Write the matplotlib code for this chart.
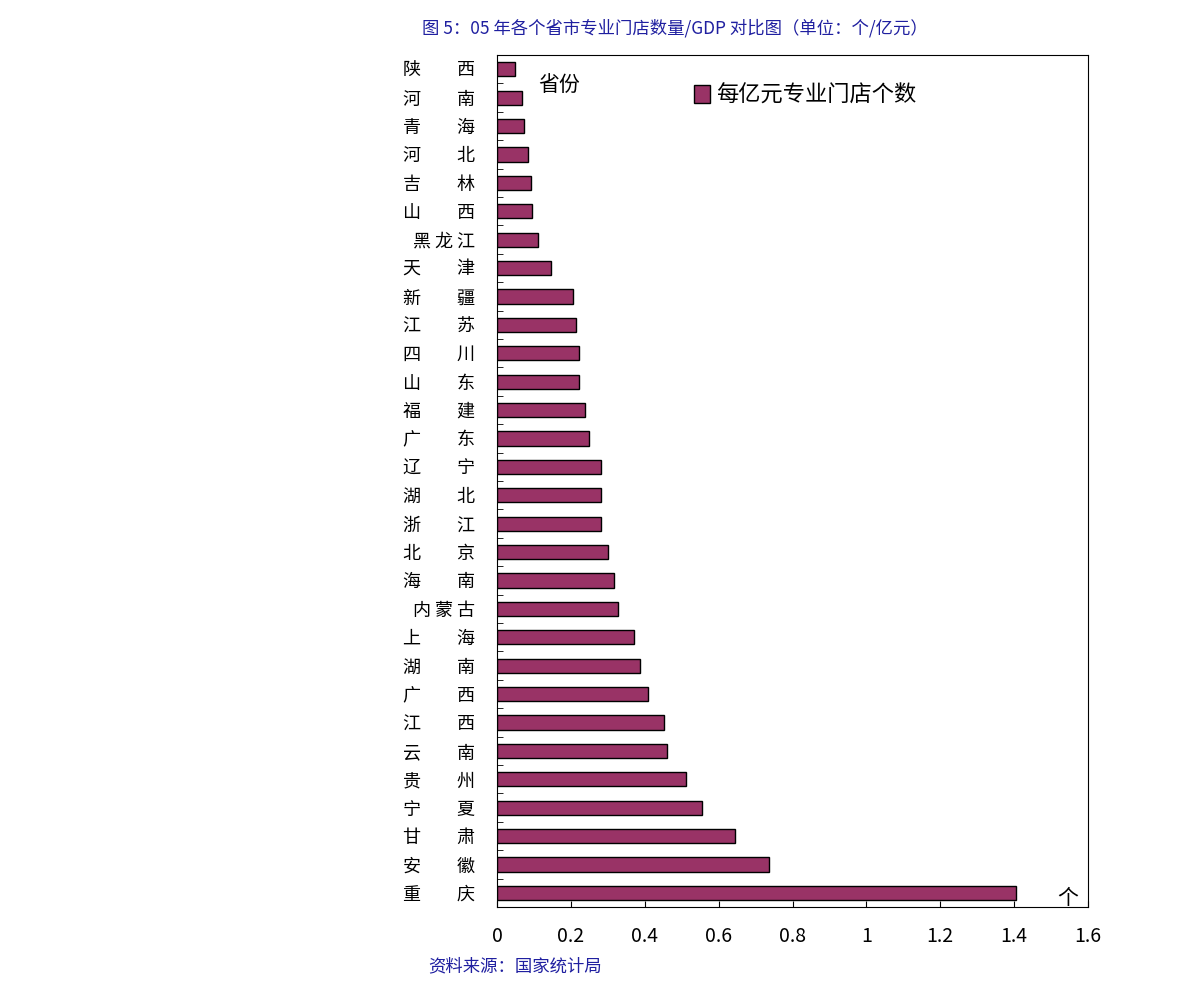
import matplotlib
matplotlib.use("Agg")
import matplotlib.pyplot as plt
from matplotlib.patches import Patch

plt.rcParams["font.family"] = ["Noto Sans CJK SC", "DejaVu Sans"]

# top to bottom as in the chart
provinces = ["陕西", "河南", "青海", "河北", "吉林", "山西", "黑龙江", "天津", "新疆", "江苏",
             "四川", "山东", "福建", "广东", "辽宁", "湖北", "浙江", "北京", "海南", "内蒙古",
             "上海", "湖南", "广西", "江西", "云南", "贵州", "宁夏", "甘肃", "安徽", "重庆"]
values = [0.049, 0.068, 0.073, 0.084, 0.092, 0.095, 0.111, 0.146, 0.206, 0.214,
          0.222, 0.222, 0.238, 0.249, 0.282, 0.282, 0.282, 0.300, 0.317, 0.328,
          0.371, 0.387, 0.409, 0.452, 0.460, 0.512, 0.555, 0.644, 0.736, 1.405]
xticks = [0, 0.2, 0.4, 0.6, 0.8, 1, 1.2, 1.4, 1.6]


def spaced(name):
    if len(name) == 2:
        return name[0] + "　　" + name[1]
    return " ".join(name)


fig = plt.figure(figsize=(11.91, 9.94), dpi=100)
ax = fig.add_axes([497 / 1191, 1 - 907 / 994, 591 / 1191, 852 / 994])
n = len(provinces)
ypos = list(range(n - 1, -1, -1))
ax.barh(ypos, values, height=0.5, color="#993366", edgecolor="black", linewidth=1)
ax.set_xlim(0, 1.6)
ax.set_ylim(-0.5, n - 0.5)
ax.set_xticks(xticks, [str(t) for t in xticks], fontsize=14)
ax.set_yticks(ypos, [spaced(p) for p in provinces], fontsize=13)
ax.tick_params(axis="y", length=0, pad=16)
ax.tick_params(axis="x", direction="in", length=4, pad=14)
ax.set_yticks([y + 0.5 for y in range(-1, n)], minor=True)
ax.tick_params(axis="y", which="minor", direction="in", length=4)
for s in ax.spines.values():
    s.set_linewidth(0.8)

ax.text(0.07, 0.965, "省份", transform=ax.transAxes, fontsize=15, ha="left", va="center")
ax.text(0.965, 0.01, "个", transform=ax.transAxes, fontsize=15, ha="center", va="center")
ax.legend(handles=[Patch(facecolor="#993366", edgecolor="black", label="每亿元专业门店个数")],
          loc="upper left", bbox_to_anchor=(0.3, 0.99), frameon=False, fontsize=16,
          handlelength=0.7, handleheight=0.9, handletextpad=0.3)

fig.text(422 / 1191, 1 - 28 / 994, "图 5：05 年各个省市专业门店数量/GDP 对比图（单位：个/亿元）",
         color="#1f1fa0", fontsize=12.5, ha="left", va="center")
fig.text(428 / 1191, 1 - 966 / 994, "资料来源：国家统计局",
         color="#1f1fa0", fontsize=12.5, ha="left", va="center")

fig.savefig("out.png", dpi=100)
